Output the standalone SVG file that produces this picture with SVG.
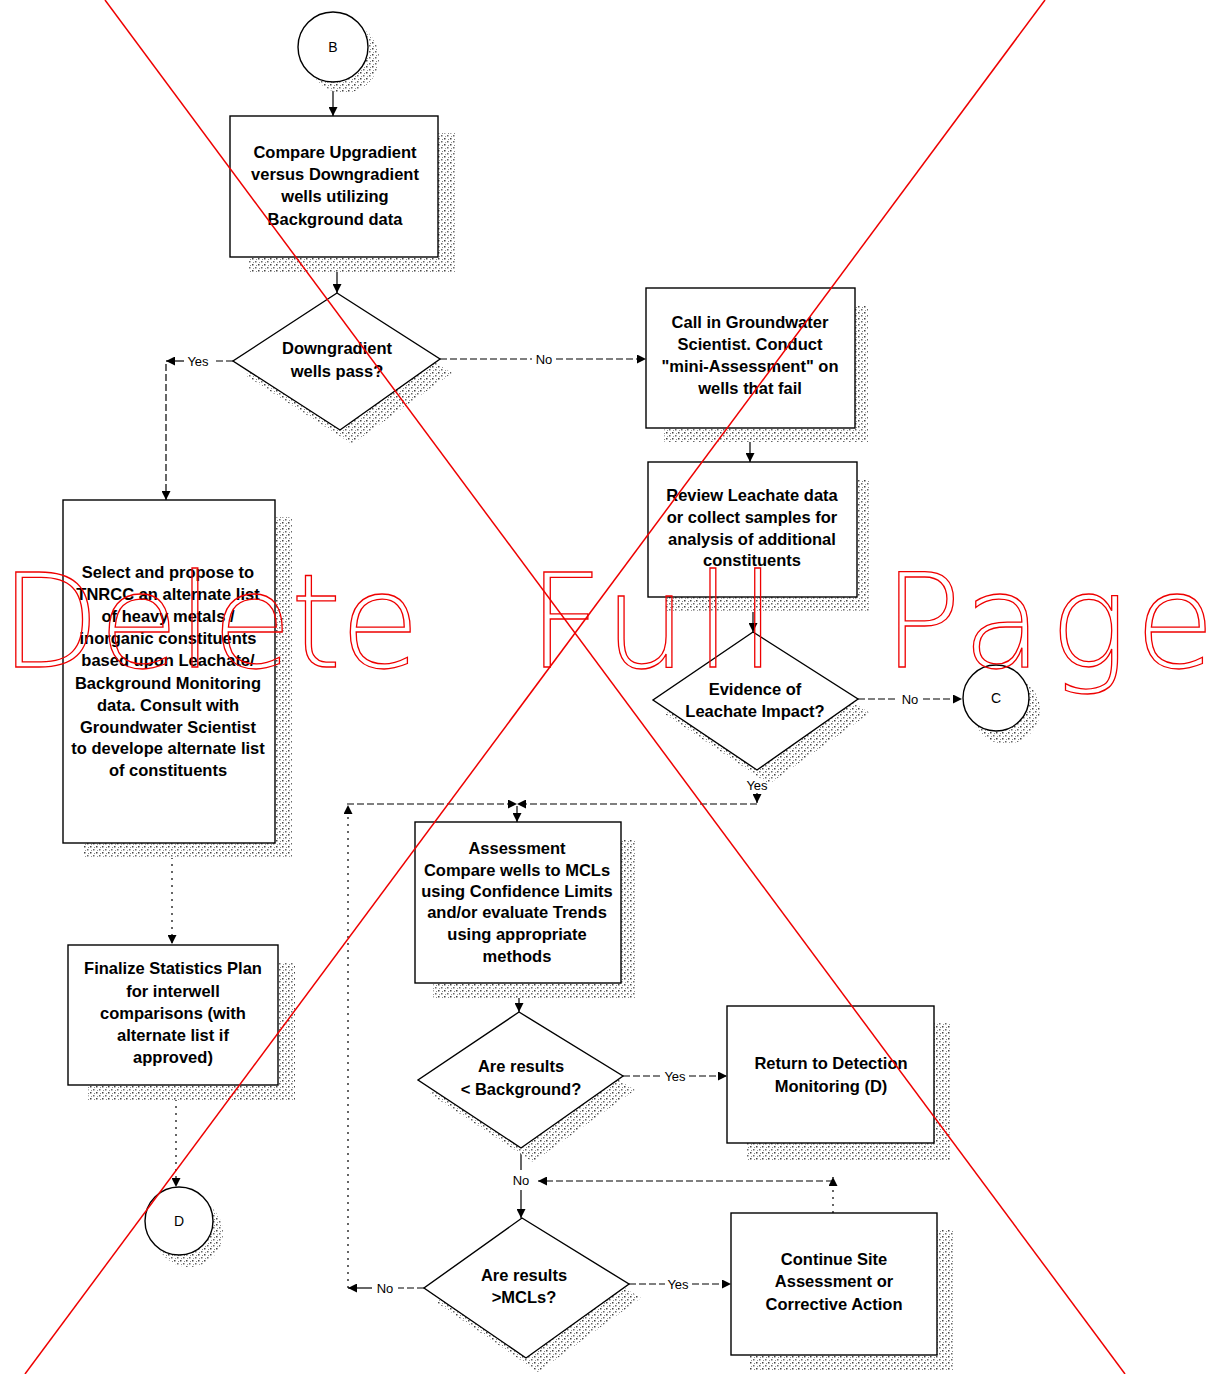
<svg xmlns="http://www.w3.org/2000/svg" width="1220" height="1374" viewBox="0 0 1220 1374">
  <defs>
    <!-- stippled drop-shadow texture -->
    <pattern id="stip" width="6" height="6" patternUnits="userSpaceOnUse">
      <rect width="6" height="6" fill="#fff"/>
      <rect x="0" y="0" width="1.5" height="1.5" fill="#444"/>
      <rect x="3" y="3" width="1.5" height="1.5" fill="#666"/>
      <rect x="4" y="1" width="1" height="1" fill="#888"/>
      <rect x="1" y="4" width="1" height="1" fill="#999"/>
    </pattern>
    <marker id="ah" viewBox="0 0 10 10" refX="10" refY="5" markerWidth="9" markerHeight="9" markerUnits="userSpaceOnUse" orient="auto">
      <path d="M0,0 L10,5 L0,10 z" fill="#000"/>
    </marker>
    <style>
      .box { fill: #fff; stroke: #000; stroke-width: 1.4; }
      .shadow { fill: url(#stip); stroke: none; }
      .t { font-family: "Liberation Sans", Arial, sans-serif; font-weight: bold; font-size: 16.5px; text-anchor: middle; fill: #000; }
      .lbl { font-family: "Liberation Sans", Arial, sans-serif; font-size: 13px; text-anchor: middle; fill: #000; }
      .ct { font-family: "Liberation Sans", Arial, sans-serif; font-size: 14px; text-anchor: middle; fill: #000; }
      .con { fill: none; stroke: #000; stroke-width: 1.2; }
      .dash { stroke-dasharray: 7 3; }
      .dot { stroke-dasharray: 2 5; }
      .arr { marker-end: url(#ah); }
      .stamp { font-family: "DejaVu Sans", "Liberation Sans", sans-serif; font-weight: 200; font-size: 130px; fill: none; stroke: #e00; stroke-width: 1.3; }
      .cross { stroke: #e00; stroke-width: 1.5; }
    </style>
  </defs>

  <rect width="1220" height="1374" fill="#fff"/>

  <!-- connectors -->
  <g id="connectors">
    <path class="con arr" d="M333,82 V116"/>
    <path class="con arr" d="M337,257 V293"/>
    <!-- Yes branch of first decision -->
    <path class="con dash" d="M233,361 H213"/>
    <path class="con arr" d="M184,361 H166"/>
    <path class="con dash arr" d="M166,364 V500"/>
    <!-- No branch of first decision -->
    <path class="con dash" d="M440,359 H532"/>
    <path class="con dash arr" d="M556,359 H646"/>
    <path class="con arr" d="M750,428 V462"/>
    <path class="con arr" d="M753,597 V632"/>
    <!-- Leachate decision -->
    <path class="con dash" d="M858,699 H898"/>
    <path class="con dash arr" d="M923,699 H962"/>
    <path class="con arr" d="M757,793 V803"/>
    <path class="con dash arr" d="M757,804 H517"/>
    <path class="con dash arr" d="M347,804 H517"/>
    <path class="con arr" d="M517,806 V822"/>
    <path class="con dot arr" d="M348,1288 V805"/>
    <!-- Assessment loop -->
    <path class="con arr" d="M519,983 V1012"/>
    <path class="con dash" d="M623,1076 H661"/>
    <path class="con dash arr" d="M689,1076 H727"/>
    <path class="con" d="M521,1148 V1170"/>
    <path class="con arr" d="M521,1190 V1218"/>
    <path class="con dot arr" d="M833,1213 V1177"/>
    <path class="con dash arr" d="M833,1181 H538"/>
    <path class="con dash" d="M424,1288 H398"/>
    <path class="con arr" d="M372,1288 H348"/>
    <path class="con dash" d="M629,1284 H665"/>
    <path class="con dash arr" d="M692,1284 H731"/>
    <!-- left column -->
    <path class="con dot arr" d="M172,843 V944"/>
    <path class="con dot arr" d="M176,1085 V1187"/>

    <text class="lbl" x="198" y="366">Yes</text>
    <text class="lbl" x="544" y="364">No</text>
    <text class="lbl" x="910" y="704">No</text>
    <text class="lbl" x="757" y="790">Yes</text>
    <text class="lbl" x="675" y="1081">Yes</text>
    <text class="lbl" x="521" y="1185">No</text>
    <text class="lbl" x="385" y="1293">No</text>
    <text class="lbl" x="678" y="1289">Yes</text>
  </g>

  <!-- connector B -->
  <g id="node-b">
    <circle class="shadow" cx="344" cy="58" r="35"/>
    <circle class="box" cx="333" cy="47" r="35"/>
    <text class="ct" x="333" y="52">B</text>
  </g>

  <g id="node-compare">
    <rect class="shadow" x="248" y="133" width="208" height="139"/>
    <rect class="box" x="230" y="116" width="208" height="141"/>
    <text class="t" x="335" y="158">Compare Upgradient</text>
    <text class="t" x="335" y="180">versus Downgradient</text>
    <text class="t" x="335" y="202">wells utilizing</text>
    <text class="t" x="335" y="225">Background data</text>
  </g>

  <g id="node-pass">
    <path class="shadow" d="M349,307 L452,373 L352,444 L245,375 z"/>
    <path class="box" d="M337,293 L440,359 L340,430 L233,361 z"/>
    <text class="t" x="337" y="354">Downgradient</text>
    <text class="t" x="337" y="377">wells pass?</text>
  </g>

  <g id="node-call">
    <rect class="shadow" x="664" y="305" width="204" height="137"/>
    <rect class="box" x="646" y="288" width="209" height="140"/>
    <text class="t" x="750" y="328">Call in Groundwater</text>
    <text class="t" x="750" y="350">Scientist.  Conduct</text>
    <text class="t" x="750" y="372">"mini-Assessment" on</text>
    <text class="t" x="750" y="394">wells that fail</text>
  </g>

  <g id="node-review">
    <rect class="shadow" x="666" y="479" width="204" height="133"/>
    <rect class="box" x="648" y="462" width="209" height="135"/>
    <text class="t" x="752" y="501">Review Leachate data</text>
    <text class="t" x="752" y="523">or collect samples for</text>
    <text class="t" x="752" y="545">analysis of additional</text>
    <text class="t" x="752" y="566">constituents</text>
  </g>

  <g id="node-evidence">
    <path class="shadow" d="M765,646 L870,713 L769,784 L665,714 z"/>
    <path class="box" d="M753,632 L858,699 L757,770 L653,700 z"/>
    <text class="t" x="755" y="695">Evidence of</text>
    <text class="t" x="755" y="717">Leachate Impact?</text>
  </g>

  <g id="node-c">
    <circle class="shadow" cx="1006" cy="710" r="34"/>
    <circle class="box" cx="996" cy="698" r="33"/>
    <text class="ct" x="996" y="703">C</text>
  </g>

  <g id="node-select">
    <rect class="shadow" x="83" y="517" width="209" height="341"/>
    <rect class="box" x="63" y="500" width="212" height="343"/>
    <text class="t" x="168" y="578">Select and propose to</text>
    <text class="t" x="168" y="600">TNRCC an alternate list</text>
    <text class="t" x="168" y="622">of heavy metals /</text>
    <text class="t" x="168" y="644">inorganic constituents</text>
    <text class="t" x="168" y="666">based upon Leachate/</text>
    <text class="t" x="168" y="689">Background Monitoring</text>
    <text class="t" x="168" y="711">data.  Consult with</text>
    <text class="t" x="168" y="733">Groundwater Scientist</text>
    <text class="t" x="168" y="754">to develope alternate list</text>
    <text class="t" x="168" y="776">of constituents</text>
  </g>

  <g id="node-finalize">
    <rect class="shadow" x="88" y="962" width="207" height="138"/>
    <rect class="box" x="68" y="945" width="210" height="140"/>
    <text class="t" x="173" y="974">Finalize Statistics Plan</text>
    <text class="t" x="173" y="997">for interwell</text>
    <text class="t" x="173" y="1019">comparisons (with</text>
    <text class="t" x="173" y="1041">alternate list if</text>
    <text class="t" x="173" y="1063">approved)</text>
  </g>

  <g id="node-d">
    <circle class="shadow" cx="189" cy="1233" r="34"/>
    <circle class="box" cx="179" cy="1221" r="34"/>
    <text class="ct" x="179" y="1226">D</text>
  </g>

  <g id="node-assessment">
    <rect class="shadow" x="433" y="839" width="203" height="159"/>
    <rect class="box" x="415" y="822" width="206" height="161"/>
    <text class="t" x="517" y="854">Assessment</text>
    <text class="t" x="517" y="876">Compare wells to MCLs</text>
    <text class="t" x="517" y="897">using Confidence Limits</text>
    <text class="t" x="517" y="918">and/or evaluate Trends</text>
    <text class="t" x="517" y="940">using appropriate</text>
    <text class="t" x="517" y="962">methods</text>
  </g>

  <g id="node-background">
    <path class="shadow" d="M531,1026 L635,1090 L533,1162 L430,1094 z"/>
    <path class="box" d="M519,1012 L623,1076 L521,1148 L418,1080 z"/>
    <text class="t" x="521" y="1072">Are results</text>
    <text class="t" x="521" y="1095">&lt; Background?</text>
  </g>

  <g id="node-return">
    <rect class="shadow" x="746" y="1023" width="204" height="137"/>
    <rect class="box" x="727" y="1006" width="207" height="137"/>
    <text class="t" x="831" y="1069">Return to Detection</text>
    <text class="t" x="831" y="1092">Monitoring (D)</text>
  </g>

  <g id="node-mcls">
    <path class="shadow" d="M534,1232 L641,1298 L538,1372 L436,1302 z"/>
    <path class="box" d="M522,1218 L629,1284 L526,1358 L424,1288 z"/>
    <text class="t" x="524" y="1281">Are results</text>
    <text class="t" x="524" y="1303">&gt;MCLs?</text>
  </g>

  <g id="node-continue">
    <rect class="shadow" x="750" y="1230" width="204" height="140"/>
    <rect class="box" x="731" y="1213" width="206" height="142"/>
    <text class="t" x="834" y="1265">Continue Site</text>
    <text class="t" x="834" y="1287">Assessment or</text>
    <text class="t" x="834" y="1310">Corrective Action</text>
  </g>

  <!-- red void stamp across the page -->
  <g id="void-stamp">
    <line class="cross" x1="105" y1="0" x2="1125" y2="1374"/>
    <line class="cross" x1="1045" y1="0" x2="25" y2="1374"/>
    <text class="stamp" x="0" y="667" textLength="420" lengthAdjust="spacing">Delete</text>
    <text class="stamp" x="528" y="667" textLength="248" lengthAdjust="spacing">Full</text>
    <text class="stamp" x="883" y="667" textLength="332" lengthAdjust="spacing">Page</text>
  </g>
</svg>
